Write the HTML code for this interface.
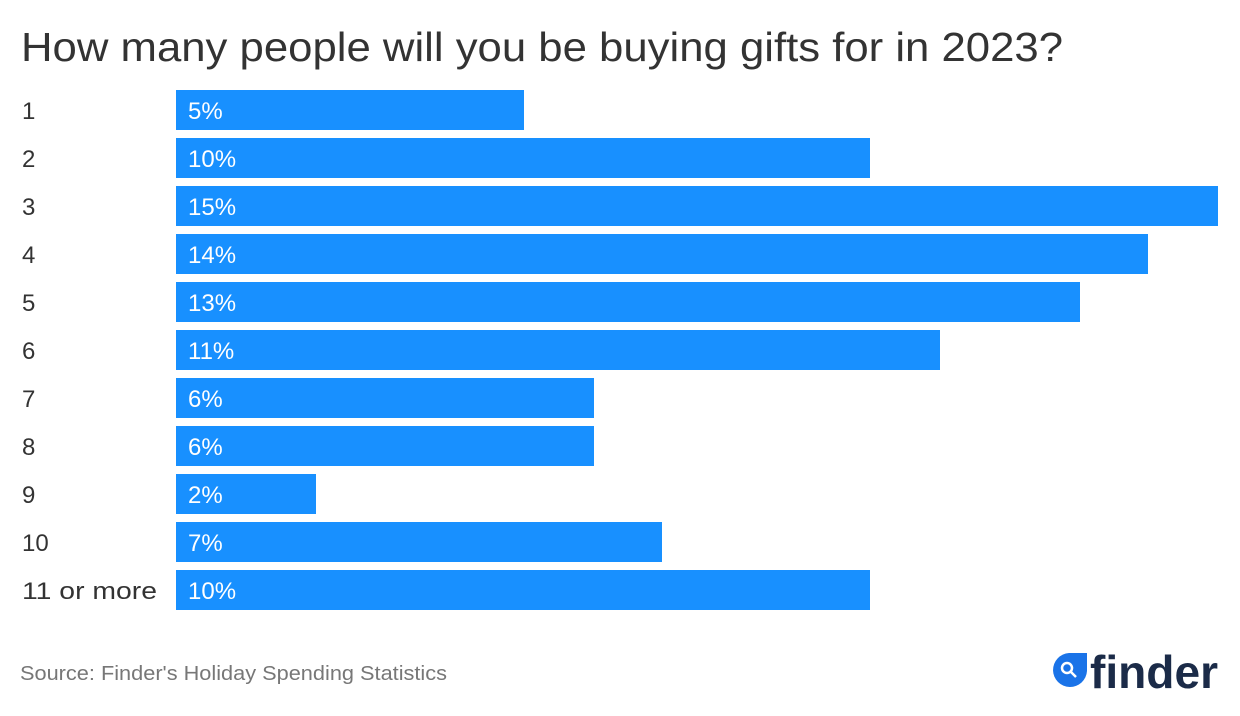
<!DOCTYPE html>
<html><head><style>
body{margin:0;background:#fff;}
svg{display:block;font-family:"Liberation Sans",sans-serif;}
</style></head><body>
<svg width="1240" height="716" viewBox="0 0 1240 716">
<rect width="1240" height="716" fill="#fff"/>
<text x="21" y="61" font-size="41" fill="#333" textLength="1042" lengthAdjust="spacingAndGlyphs">How many people will you be buying gifts for in 2023?</text>
<g fill="#1890ff">
<rect x="176" y="90" width="348" height="40"/>
<rect x="176" y="138" width="694" height="40"/>
<rect x="176" y="186" width="1042" height="40"/>
<rect x="176" y="234" width="972" height="40"/>
<rect x="176" y="282" width="904" height="40"/>
<rect x="176" y="330" width="764" height="40"/>
<rect x="176" y="378" width="418" height="40"/>
<rect x="176" y="426" width="418" height="40"/>
<rect x="176" y="474" width="140" height="40"/>
<rect x="176" y="522" width="486" height="40"/>
<rect x="176" y="570" width="694" height="40"/>
</g>
<g font-size="24" fill="#333">
<text x="22" y="119">1</text><text x="22" y="167">2</text><text x="22" y="215">3</text>
<text x="22" y="263">4</text><text x="22" y="311">5</text><text x="22" y="359">6</text>
<text x="22" y="407">7</text><text x="22" y="455">8</text><text x="22" y="503">9</text>
<text x="22" y="551">10</text><text x="22" y="599" textLength="135" lengthAdjust="spacingAndGlyphs">11 or more</text>
</g>
<g font-size="24" fill="#fff">
<text x="188" y="119">5%</text><text x="188" y="167">10%</text><text x="188" y="215">15%</text>
<text x="188" y="263">14%</text><text x="188" y="311">13%</text><text x="188" y="359">11%</text>
<text x="188" y="407">6%</text><text x="188" y="455">6%</text><text x="188" y="503">2%</text>
<text x="188" y="551">7%</text><text x="188" y="599">10%</text>
</g>
<text x="20" y="680" font-size="20" fill="#777" textLength="427" lengthAdjust="spacingAndGlyphs">Source: Finder's Holiday Spending Statistics</text>
<path d="M1087 653 V671 A17 17 0 1 1 1069 653 Z" fill="#1a73e8"/>
<circle cx="1067" cy="668" r="5" fill="none" stroke="#fff" stroke-width="2.5"/>
<line x1="1071" y1="672" x2="1076" y2="677" stroke="#fff" stroke-width="2.5"/>
<text x="1090" y="688" font-size="46" font-weight="bold" fill="#1b2b48" textLength="128" lengthAdjust="spacingAndGlyphs">finder</text>
</svg>
</body></html>
